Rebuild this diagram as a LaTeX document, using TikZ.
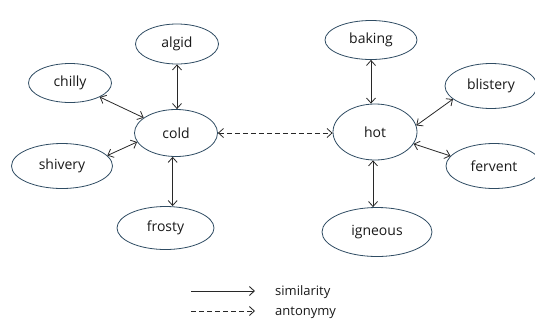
\documentclass[tikz,border=0pt]{standalone}
\usepackage{fontspec}
\setmainfont{Open Sans}
\usepackage{xcolor}
\usetikzlibrary{arrows.meta, positioning, shapes.geometric, calc}
\definecolor{ringblue}{RGB}{47, 76, 99}
\definecolor{linegray}{RGB}{40, 40, 40}
\definecolor{textgray}{RGB}{25, 25, 25}
\tikzset{
    word/.style ={draw=ringblue, ellipse, line width=0.8pt, fill=white,
                  text=textgray, font=\fontsize{14}{16}\selectfont,
                  inner sep=0pt, minimum width=82pt, minimum height=38pt},
    sim/.style  ={{Straight Barb[length=5pt, width=9pt]}-{Straight Barb[length=5pt, width=9pt]},
                  line width=0.8pt, draw=linegray},
    ant/.style  ={sim, dash pattern=on 5pt off 3pt},
    keyar/.style={-{Straight Barb[length=5pt, width=9pt]}, line width=0.9pt, draw=linegray},
    key/.style  ={text=textgray, font=\fontsize{13}{15}\selectfont, anchor=base west, inner sep=0pt}
}

\begin{document}
\begin{tikzpicture}[x=1pt, y=-1pt]
  \useasboundingbox (0,0) rectangle (535,322);

  % cold cluster
  \node[word] (cold)    at (176,133) [minimum width=83pt, minimum height=47pt] {cold};
  \node[word] (algid)   at (177, 44) [minimum width=83pt, minimum height=40pt] {algid};
  \node[word] (chilly)  at ( 70, 83) [minimum width=83pt, minimum height=39pt] {chilly};
  \node[word] (shivery) at ( 62,166) [minimum width=101pt, minimum height=45pt] {shivery};
  \node[word] (frosty)  at (165.5,228) [minimum width=97pt, minimum height=43pt] {frosty};

  % hot cluster
  \node[word] (hot)      at (375,132) [minimum width=84pt, minimum height=56pt] {hot};
  \node[word] (baking)   at (371, 40) [minimum width=92pt, minimum height=39pt] {baking};
  \node[word] (blistery) at (491, 86) [minimum width=92pt, minimum height=45pt] {blistery};
  \node[word] (fervent)  at (494,166) [minimum width=96pt, minimum height=45pt] {fervent};
  \node[word] (igneous)  at (377,232) [minimum width=110pt, minimum height=49pt] {igneous};

  % similarity links
  \draw[sim] (algid) -- (algid |- cold.north);
  \draw[sim] (chilly) -- (cold);
  \draw[sim] (shivery.13) -- (cold.193);
  \draw[sim] (cold.262) -- (cold.262 |- frosty.north);
  \draw[sim] (baking) -- (baking |- hot.north);
  \draw[sim] (hot.9) -- (blistery.199);
  \draw[sim] (hot.-17) -- (fervent.167);
  \draw[sim] (hot.-94) -- (hot.-94 |- igneous.north);

  % antonymy link
  \draw[ant] (cold.east) -- (cold.east -| hot.west);

  % legend
  \coordinate (simA) at (191,291);
  \coordinate (simB) at (255,291);
  \coordinate (antA) at (191,311);
  \coordinate (antB) at (255,311);
  \draw[keyar] (simA) -- (simB);
  \draw[keyar, dash pattern=on 5pt off 3pt] (antA) -- (antB);
  \node[key] (simtxt) at ($(simB)+(20,4.5)$) {similarity};
  \node[key] (anttxt) at ($(antB)+(20,4.5)$) {antonymy};
\end{tikzpicture}
\end{document}
